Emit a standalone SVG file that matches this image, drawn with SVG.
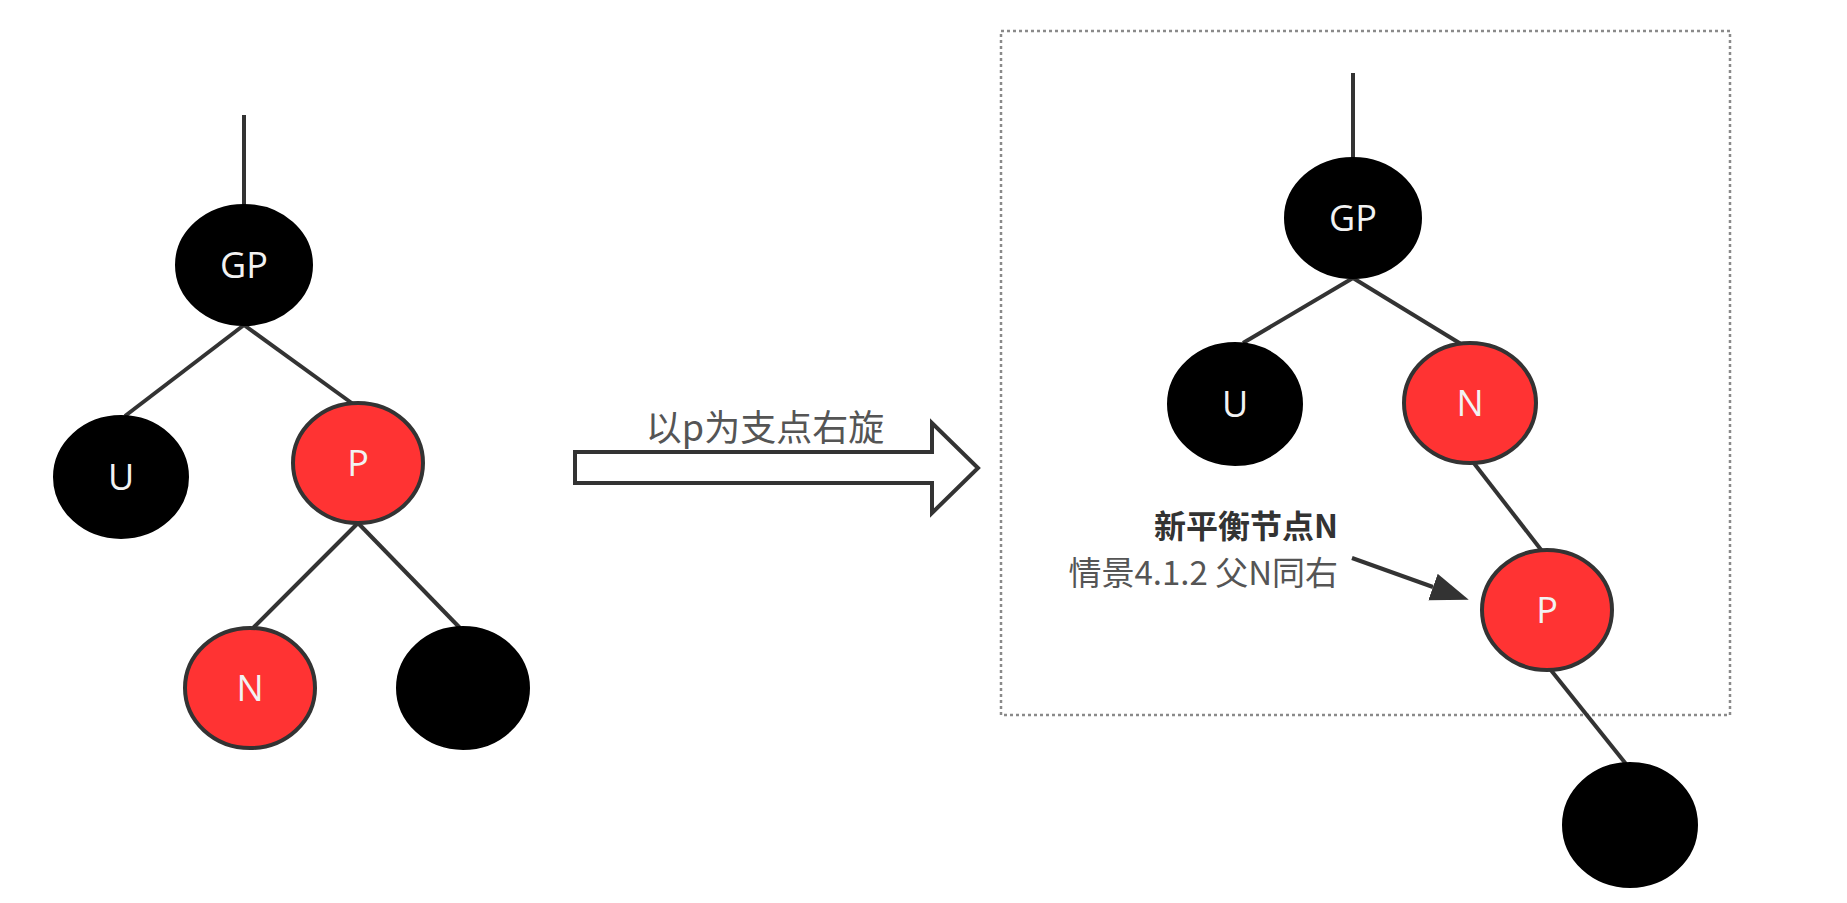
<svg xmlns="http://www.w3.org/2000/svg" width="1847" height="903" viewBox="0 0 1847 903">
<style>
.edge{stroke:#333;stroke-width:4;fill:none}
.blk{fill:#000;stroke:#000;stroke-width:2}
.red{fill:#ff3333;stroke:#333;stroke-width:4}
.lbl{font-family:"Open Sans","Noto Sans",sans-serif;font-size:36px;fill:#f2f2f2;text-anchor:middle}
.cjk{font-family:"Noto Sans CJK SC","Noto Sans",sans-serif}
</style>
<defs>
<marker id="ah" markerUnits="userSpaceOnUse" markerWidth="44" markerHeight="34" refX="0" refY="14" orient="auto" viewBox="0 0 44 34">
<path d="M0,0 L38,14 L0,28 Z" fill="#333"/>
</marker>
</defs>
<rect width="1847" height="903" fill="#fff"/>
<rect id="frame" x="1001" y="31" width="729" height="684" fill="none" stroke="#8a8a8a" stroke-width="2.5" stroke-dasharray="3,3"/>
<g id="connectors">
<line class="edge" x1="244" y1="115" x2="244" y2="206"/>
<line class="edge" x1="244" y1="325" x2="125" y2="416"/>
<line class="edge" x1="244" y1="325" x2="353" y2="404"/>
<line class="edge" x1="358" y1="523" x2="253" y2="628"/>
<line class="edge" x1="358" y1="523" x2="460" y2="628"/>
<line class="edge" x1="1353" y1="73" x2="1353" y2="159"/>
<line class="edge" x1="1353" y1="278" x2="1243" y2="343"/>
<line class="edge" x1="1353" y1="278" x2="1461" y2="344"/>
<line class="edge" x1="1473" y1="462" x2="1542" y2="551"/>
<line class="edge" x1="1550" y1="669" x2="1626" y2="764"/>
<line class="edge" x1="1352" y1="558" x2="1433" y2="587" marker-end="url(#ah)"/>
<polygon id="rotate-arrow" points="575,452 932,452 932,423 978,468 932,513 932,483 575,483" fill="#fff" stroke="#333" stroke-width="4" stroke-linejoin="miter"/>
</g>
<text id="rotate-label" class="cjk" x="765" y="441" font-size="36" fill="#555" text-anchor="middle">以p为支点右旋</text>
<g id="L-GP"><ellipse class="blk" cx="244" cy="265" rx="68" ry="60"/><text class="lbl" x="244" y="278">GP</text></g>
<g id="L-U"><ellipse class="blk" cx="121" cy="477" rx="67" ry="61"/><text class="lbl" x="121" y="490">U</text></g>
<g id="L-P"><ellipse class="red" cx="358" cy="463" rx="65" ry="60"/><text class="lbl" x="358" y="476">P</text></g>
<g id="L-N"><ellipse class="red" cx="250" cy="688" rx="65" ry="60" stroke="#111"/><text class="lbl" x="250" y="701">N</text></g>
<g id="L-leaf"><ellipse class="blk" cx="463" cy="688" rx="66" ry="61"/></g>
<g id="R-GP"><ellipse class="blk" cx="1353" cy="218" rx="68" ry="60"/><text class="lbl" x="1353" y="231">GP</text></g>
<g id="R-U"><ellipse class="blk" cx="1235" cy="404" rx="67" ry="61"/><text class="lbl" x="1235" y="417">U</text></g>
<g id="R-N"><ellipse class="red" cx="1470" cy="403" rx="66" ry="60"/><text class="lbl" x="1470" y="416">N</text></g>
<g id="R-P"><ellipse class="red" cx="1547" cy="610" rx="65" ry="60"/><text class="lbl" x="1547" y="623">P</text></g>
<g id="R-leaf"><ellipse class="blk" cx="1630" cy="825" rx="67" ry="62"/></g>
<g id="note">
<text class="cjk" x="1338" y="538" font-size="32" font-weight="bold" fill="#333" text-anchor="end">新平衡节点N</text>
<text class="cjk" x="1338" y="585" font-size="33" fill="#555" text-anchor="end">情景4.1.2 父N同右</text>
</g>
</svg>
